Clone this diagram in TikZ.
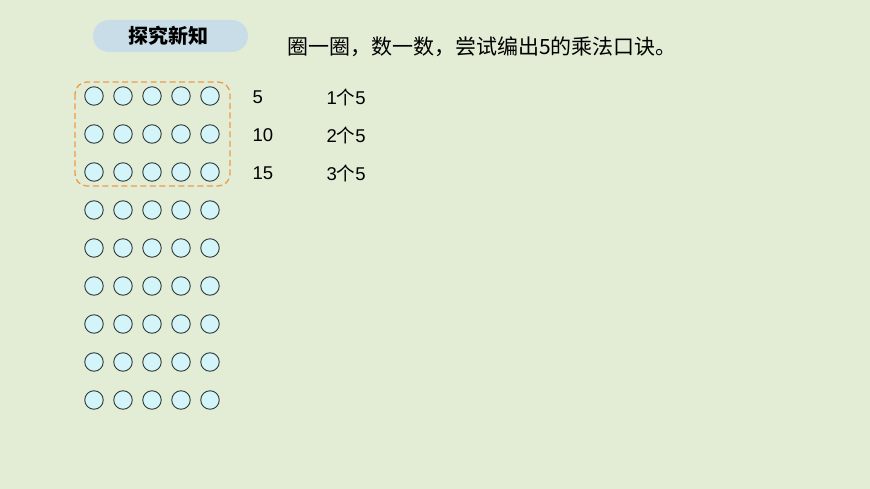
\documentclass[tikz,border=0pt]{standalone}
\usepackage{fontspec}
\setmainfont{Liberation Sans}
\newfontfamily\cjk{Noto Sans CJK SC}
\definecolor{bgc}{HTML}{E3EDD6}
\definecolor{pillc}{HTML}{C8DDE8}
\definecolor{dotc}{HTML}{D3F4F9}
\definecolor{dotline}{HTML}{2F3A36}
\definecolor{dashc}{HTML}{EE9A48}
\tikzset{
  dot/.style={circle, draw=dotline, fill=dotc, line width=0.9pt, minimum size=18.5pt, inner sep=0pt},
  numtxt/.style={anchor=west, inner sep=0pt, font=\fontsize{18.5}{20}\selectfont},
  multxt/.style={anchor=west, inner sep=0pt, font=\fontsize{18.5}{20}\selectfont},
}
\begin{document}
\begin{tikzpicture}[x=1pt,y=-1pt]
\useasboundingbox (0,0) rectangle (870,489);
\fill[bgc] (0,0) rectangle (870,489);
% header pill
\node[draw=none, fill=pillc, rounded corners=16pt, minimum width=155pt, minimum height=32pt, inner sep=0pt] (pill) at (170.5,36) {};
\node[font=\cjk\bfseries\fontsize{20}{22}\selectfont, inner sep=0pt] (head) at (168,36) {探究新知};
% title
\node[anchor=west, inner sep=0pt, font=\cjk\fontsize{21}{22}\selectfont] (title) at (287,47) {圈一圈，数一数，尝试编出5的乘法口诀。};
% dots
\foreach \r in {0,...,8}{
  \foreach \c in {0,...,4}{
    \node[dot] (d\r\c) at (94+29*\c, 96+38*\r) {};
  }
}
% dashed box
\draw[dashc, line width=1.3pt, dash pattern=on 6pt off 3.5pt, rounded corners=12pt] (75,82) rectangle (230,186);
% numbers
\node[numtxt] (n1) at (252.5,97) {5};
\node[numtxt] (n2) at (252.5,135) {10};
\node[numtxt] (n3) at (252.5,173) {15};
\node[multxt] (m1) at (326.5,97) {1{\cjk 个}5};
\node[multxt] (m2) at (326.5,135) {2{\cjk 个}5};
\node[multxt] (m3) at (326.5,173) {3{\cjk 个}5};
\end{tikzpicture}
\end{document}
